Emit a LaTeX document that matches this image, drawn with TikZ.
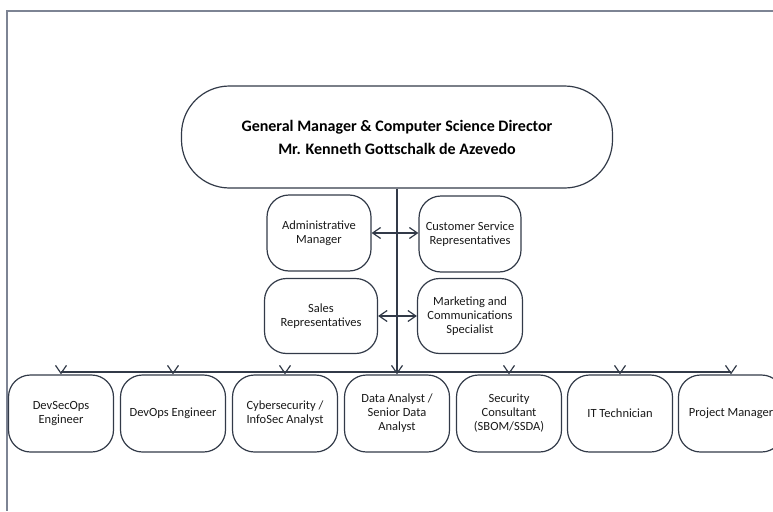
\documentclass[tikz,border=0pt]{standalone}
\usepackage{fontspec}
\setmainfont{Carlito}
\usetikzlibrary{arrows.meta}
\definecolor{boxline}{RGB}{50,58,72}
\definecolor{frameline}{RGB}{125,132,148}
\begin{document}
\begin{tikzpicture}[x=1pt,y=-1pt,
    role/.style={draw=boxline, line width=1.2pt, rounded corners=22pt, minimum width=105pt, minimum height=77pt,
      align=center, text=black!90, font=\fontsize{12.5}{14}\selectfont},
    barb/.tip={Straight Barb[length=8pt,width=11pt]},
    link/.style={draw=boxline, line width=1.2pt, -barb}]
    \useasboundingbox (0,0) rectangle (773,511);
    % page frame
    \draw[frameline, line width=1.2pt] (773,11) -- (7,11) -- (7,511);
    % director
    \node[draw=boxline, line width=1.2pt, rounded corners=48pt, minimum width=431pt, minimum height=102pt,
      align=center, font=\fontsize{16}{23}\selectfont\bfseries] (gm) at (397,137)
      {General Manager \& Computer Science Director\\Mr. Kenneth Gottschalk de Azevedo};
    % staff next to the trunk
    \node[role, minimum width=104pt, minimum height=76pt] (adm) at (319,233) {Administrative\\Manager};
    \node[role, minimum width=102pt, minimum height=76pt] (csr) at (470,234) {Customer Service\\Representatives};
    \node[role, minimum width=113pt, minimum height=75pt] (sales) at (321,316) {Sales\\Representatives};
    \node[role, minimum width=105pt, minimum height=75pt] (mkt) at (470,316) {Marketing and\\Communications\\Specialist};
    % technical team
    \node[role] (dso) at (61,413.5) {DevSecOps\\Engineer};
    \node[role] (dev) at (173,413.5) {DevOps Engineer};
    \node[role] (cyber) at (285,413.5) {Cybersecurity /\\InfoSec Analyst};
    \node[role] (data) at (397,413.5) {Data Analyst /\\Senior Data\\Analyst};
    \node[role] (secc) at (509,413.5) {Security\\Consultant\\(SBOM/SSDA)};
    \node[role] (ittech) at (620,413.5) {IT Technician};
    \node[role] (pm) at (731,413.5) {Project Manager};
    \coordinate (bus) at (397,372);
    % trunk from the director
    \draw[link] (gm.south) -- (data.north);
    % links across the trunk
    \draw[link, barb-barb] (adm.east) -- (csr.west |- adm.east);
    \draw[link, barb-barb] (sales.east) -- (mkt.west |- sales.east);
    % bus over the team
    \draw[boxline, line width=1.2pt] (bus -| dso) -- (bus -| pm);
    \foreach \b in {dso,dev,cyber,secc,ittech,pm}
      \draw[link] (bus -| \b) -- (\b.north);
\end{tikzpicture}
\end{document}
